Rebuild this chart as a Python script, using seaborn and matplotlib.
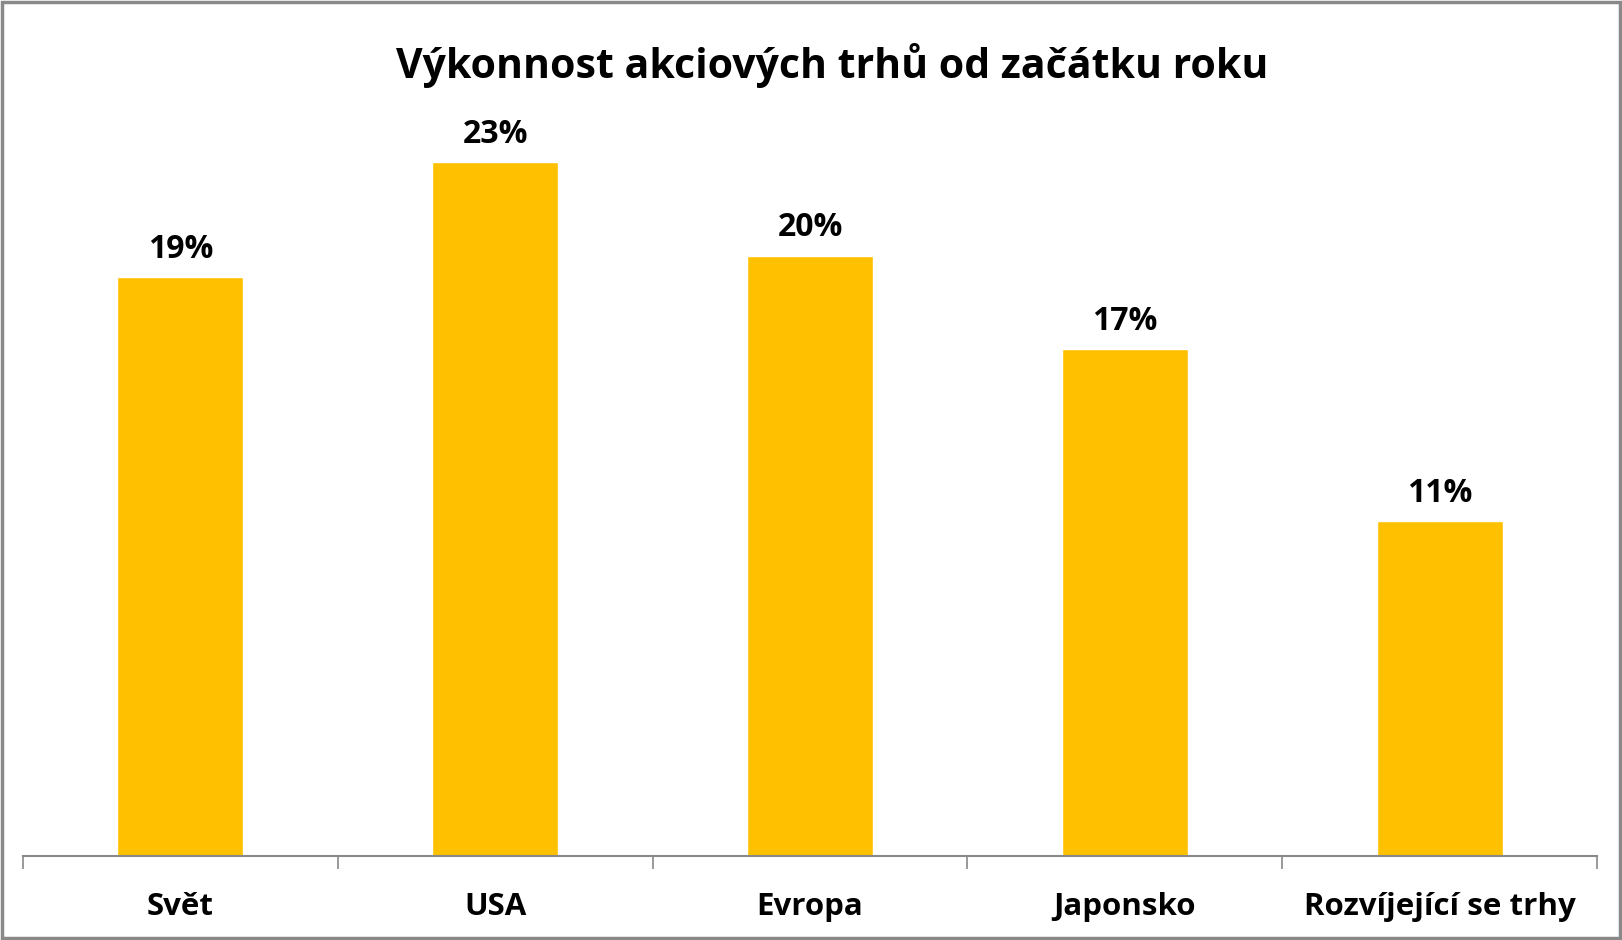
import matplotlib
matplotlib.use("Agg")
import matplotlib.pyplot as plt
import seaborn as sns
from matplotlib.patches import Rectangle

# data
regions = ["Svět", "USA", "Evropa", "Japonsko", "Rozvíjející se trhy"]
ytd_return = [19.2, 23.0, 19.9, 16.8, 11.1]
labels = ["19%", "23%", "20%", "17%", "11%"]

sns.set_style("white")
plt.rcParams["font.family"] = ["Open Sans", "DejaVu Sans"]
plt.rcParams["text.color"] = "black"
plt.rcParams["xtick.color"] = "black"

fig = plt.figure(figsize=(16.22, 9.40), dpi=100)
ax = fig.add_axes([0.0142, 0.0894, 0.9704, 0.8024])

sns.barplot(x=regions, y=ytd_return, color="#FFC000", saturation=1, width=0.4, ax=ax)

ax.bar_label(ax.containers[0], labels=labels, padding=8,
             fontsize=23, fontweight="bold", color="black")

ax.set_ylim(0, 25)
ax.set_xlim(-0.5, len(regions) - 0.5)
ax.set_yticks([])
ax.set_xlabel("")
ax.set_ylabel("")

for side in ["top", "right", "left"]:
    ax.spines[side].set_visible(False)
ax.spines["bottom"].set_color("#898989")
ax.spines["bottom"].set_linewidth(1.5)

# tick marks sit between categories
ax.set_xticks([i + 0.5 for i in range(-1, len(regions))], minor=True)
ax.tick_params(axis="x", which="minor", bottom=True, length=9.5, width=1.2, color="#898989")
ax.tick_params(axis="x", which="major", length=0, pad=26, labelcolor="black")
for t in ax.get_xticklabels():
    t.set_fontsize(22.5)
    t.set_fontweight("bold")

fig.text(0.513, 0.930, "Výkonnost akciových trhů od začátku roku",
         ha="center", va="center", fontsize=29.5, fontweight="bold", color="black")

# gray frame around the chart
fig.patches.append(Rectangle((0.001, 0.002), 0.998, 0.996, transform=fig.transFigure,
                             fill=False, edgecolor="#898989", linewidth=2.5))

fig.savefig("out.png", dpi=100)
